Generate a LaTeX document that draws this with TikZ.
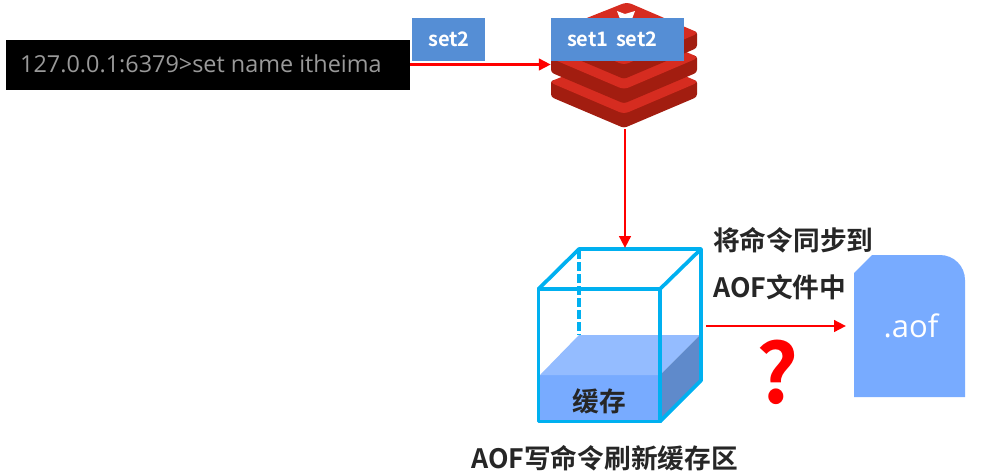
\documentclass[tikz,border=0pt]{standalone}
\usepackage{fontspec}
\setmainfont{Open Sans}
\newfontfamily\cjkbold{Noto Sans CJK SC Bold}
\usetikzlibrary{arrows.meta}
\definecolor{setblue}{HTML}{558ED5}
\definecolor{cubeline}{HTML}{00B0F0}
\definecolor{water}{HTML}{78ABFF}
\definecolor{watertop}{HTML}{94BCFF}
\definecolor{waterside}{HTML}{5F8ACB}
\definecolor{redislight}{HTML}{D62C20}
\definecolor{redisdark}{HTML}{A21D10}
\definecolor{labeltext}{HTML}{262626}
\tikzset{
    setbox/.style={fill=setblue, text=white, font=\cjkbold\fontsize{20}{20}\selectfont, inner sep=0pt, minimum height=43pt},
    redarrow/.style={draw=red, line width=2.8pt, -{Triangle[length=12pt,width=11.5pt]}},
    cubeedge/.style={draw=cubeline, line width=3.7pt, line join=round},
    title/.style={text=labeltext, font=\cjkbold\fontsize{26.7}{26.7}\selectfont, inner sep=0pt},
}
\begin{document}
\begin{tikzpicture}[x=1pt, y=-1pt]
    \useasboundingbox (0,0) rectangle (991,475);

    % redis stack
    \foreach \off in {49,24.5,0} {
        \fill[redisdark, rounded corners=3pt] (551,{31+\off}) -- (551,{48+\off}) -- (624,{79+\off}) -- (697,{48+\off}) -- (697,{31+\off}) -- cycle;
        \fill[redislight, rounded corners=5pt] (549,{33+\off}) -- (627,{2+\off}) -- (699,{33+\off}) -- (624,{65+\off}) -- cycle;
    }
    \fill[white] (617,11) -- (625,14) -- (635,11) -- (632,19) -- (620,19) -- cycle;
    \node[minimum width=146pt, minimum height=125pt, inner sep=0pt] (redis) at (624,64.5) {};

    % command line
    \node[fill=black, minimum width=404pt, minimum height=50pt, inner sep=0pt] (cmd) at (208,64.5) {};
    \node[anchor=west, text=black!40, font=\fontsize{23.4}{23.4}\selectfont, inner sep=0pt] (cmdtext) at (20,64) {127.0.0.1:6379>set name itheima};

    % boxes
    \node[setbox, minimum width=73pt] (settwo) at (448.5,39.5) {\hspace{1pt}set2};
    \node[setbox, minimum width=133pt] (setall) at (617.5,39.5) {\makebox[133pt][l]{\hspace{16pt}set1\hspace{3pt} set2}};

    % cube
    \fill[water] (540,375) rectangle (660,421);
    \fill[watertop] (540,375) -- (579,335) -- (700,335) -- (660,375) -- cycle;
    \fill[waterside] (660,375) -- (700,335) -- (700,380) -- (660,421) -- cycle;
    \draw[cubeedge, dash pattern=on 9pt off 3pt] (579,250) -- (579,335);
    \draw[cubeedge] (538.5,289) rectangle (660,421.5);
    \draw[cubeedge] (538.5,289) -- (579,249) -- (701,249) -- (660,289);
    \draw[cubeedge] (701,249) -- (701,380.5) -- (660,421.5);
    \coordinate (cubetop) at (625,248);
    \coordinate (cubeside) at (706,326);
    \node[title] (cache) at (599,401) {缓存};

    % file
    \fill[water] (854,273) -- (872,255) -- (940,255) to[out=0, in=90] (965,280) -- (965,397) -- (854,397) -- cycle;
    \node[text=white, font=\fontsize{31}{31}\selectfont, inner sep=0pt] (aof) at (911,326) {.aof};
    \coordinate (filein) at (846,326);

    % arrows
    \draw[redarrow] (cmd.east) -- (redis.west);
    \draw[redarrow] (redis.south) ++(1,2) -- (cubetop);
    \draw[redarrow] (cubeside) -- (filein);

    % labels
    \node[title, anchor=west] (synctop) at (713,240) {将命令同步到};
    \node[title, anchor=west] (syncbot) at (713,287) {AOF文件中};
    \node[title] (bufname) at (604.5,458) {AOF写命令刷新缓存区};
    \node[text=red, font=\cjkbold\fontsize{82}{82}\selectfont, inner sep=0pt] (ask) at (778,372) {?};
\end{tikzpicture}
\end{document}
